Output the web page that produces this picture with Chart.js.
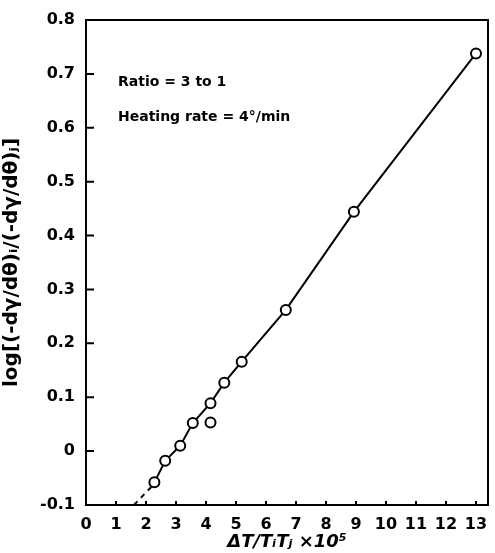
<!DOCTYPE html>
<html>
<head>
<meta charset="utf-8">
<script src="https://cdn.jsdelivr.net/npm/chart.js@4/dist/chart.umd.min.js"></script>
<style>
  body { margin: 0; background: #fff; }
  #wrap { width: 495px; height: 553px; }
</style>
</head>
<body>
<div id="wrap"><canvas id="myChart"></canvas></div>
<script>
// measured points (dT/TiTj x10^5, log ratio)
const xValues = [2.28, 2.64, 3.14, 3.56, 4.15, 4.15, 4.61, 5.19, 6.66, 8.93, 13.0]
const yValues = [-0.058, -0.018, 0.010, 0.052, 0.089, 0.053, 0.127, 0.166, 0.262, 0.444, 0.738]

// solid line through the points (outlier at 4.15 / 0.053 left off)
const lineX = [2.28, 2.64, 3.14, 3.56, 4.15, 4.61, 5.19, 6.66, 8.93, 13.0]
const lineY = [-0.058, -0.018, 0.010, 0.052, 0.089, 0.127, 0.166, 0.262, 0.444, 0.738]

// dashed extrapolation toward the x axis
const dashX = [1.6, 2.22]
const dashY = [-0.1, -0.064]

const xTicks = [0, 1, 2, 3, 4, 5, 6, 7, 8, 9, 10, 11, 12, 13]
const yTicks = [-0.1, 0, 0.1, 0.2, 0.3, 0.4, 0.5, 0.6, 0.7, 0.8]

const toPts = (xs, ys) => xs.map((x, i) => ({ x: x, y: ys[i] }))

const tickFont = { family: 'DejaVu Sans', size: 16, weight: 'bold' }

// frame + inward tick marks + notes
const framePlugin = {
    id: 'frame',
    afterDraw(chart) {
        const c = chart.ctx
        const a = chart.chartArea
        const xs = chart.scales.x
        const ys = chart.scales.y
        c.save()
        c.strokeStyle = '#000'
        c.lineWidth = 2
        c.strokeRect(a.left, a.top, a.right - a.left, a.bottom - a.top)
        c.beginPath()
        yTicks.forEach(v => {
            const p = ys.getPixelForValue(v)
            c.moveTo(a.left, p)
            c.lineTo(a.left + 8, p)
        })
        xTicks.slice(1).forEach(v => {
            const p = xs.getPixelForValue(v)
            c.moveTo(p, a.bottom)
            c.lineTo(p, a.bottom - 4)
        })
        c.stroke()
        c.fillStyle = '#000'
        c.font = 'bold 14px "DejaVu Sans"'
        c.textBaseline = 'middle'
        c.fillText('Ratio = 3 to 1', 118, 82)
        c.fillText('Heating rate = 4°/min', 118, 117)
        c.restore()
    }
}

const data = {
    datasets: [
    {
        type: 'line',
        data: toPts(lineX, lineY),
        borderColor: '#000',
        borderWidth: 2,
        pointRadius: 0,
        tension: 0,
        order: 2,
    },
    {
        type: 'line',
        data: toPts(dashX, dashY),
        borderColor: '#000',
        borderWidth: 2,
        borderDash: [5, 5],
        pointRadius: 0,
        order: 2,
    },
    {
        type: 'scatter',
        data: toPts(xValues, yValues),
        pointRadius: 5,
        pointBorderWidth: 2,
        pointBackgroundColor: '#fff',
        pointBorderColor: '#000',
        order: 1,
    },
],
}

const config = {
    type: 'scatter',
    data: data,
    plugins: [framePlugin],
    options: {
        responsive: true,
        maintainAspectRatio: false,
        animation: false,
        layout: { padding: { top: 20, right: 3, left: 0, bottom: 0 } },
        plugins: {
            legend: { display: false },
            tooltip: { enabled: false },
        },
        scales: {
            x: {
                type: 'linear',
                min: 0,
                max: 13.4,
                afterBuildTicks: s => { s.ticks = xTicks.map(v => ({ value: v })) },
                afterFit: s => { s.height = 48 },
                grid: { display: false },
                border: { display: false },
                ticks: { color: '#000', font: tickFont, padding: 2, maxRotation: 0, autoSkip: false },
                title: {
                    display: true,
                    text: 'ΔT/TᵢTⱼ ×10⁵',
                    color: '#000',
                    font: { family: 'DejaVu Sans', size: 18, weight: 'bold', style: 'italic' },
                    padding: { top: 0, bottom: 0 },
                },
            },
            y: {
                min: -0.1,
                max: 0.8,
                afterBuildTicks: s => { s.ticks = yTicks.map(v => ({ value: v })) },
                afterFit: s => { s.width = 86 },
                grid: { display: false },
                border: { display: false },
                ticks: {
                    color: '#000',
                    font: tickFont,
                    padding: 3,
                    callback: v => Math.abs(v) < 1e-9 ? '0' : String(Math.round(v * 10) / 10),
                },
                title: {
                    display: true,
                    text: 'log[(-dγ/dθ)ᵢ/(-dγ/dθ)ⱼ]',
                    color: '#000',
                    font: { family: 'DejaVu Sans', size: 20, weight: 'bold' },
                    padding: { top: 0, bottom: 2 },
                },
            },
        },
    },
}

const myChart = new Chart(document.getElementById('myChart').getContext('2d'), config)
</script>
</body>
</html>
